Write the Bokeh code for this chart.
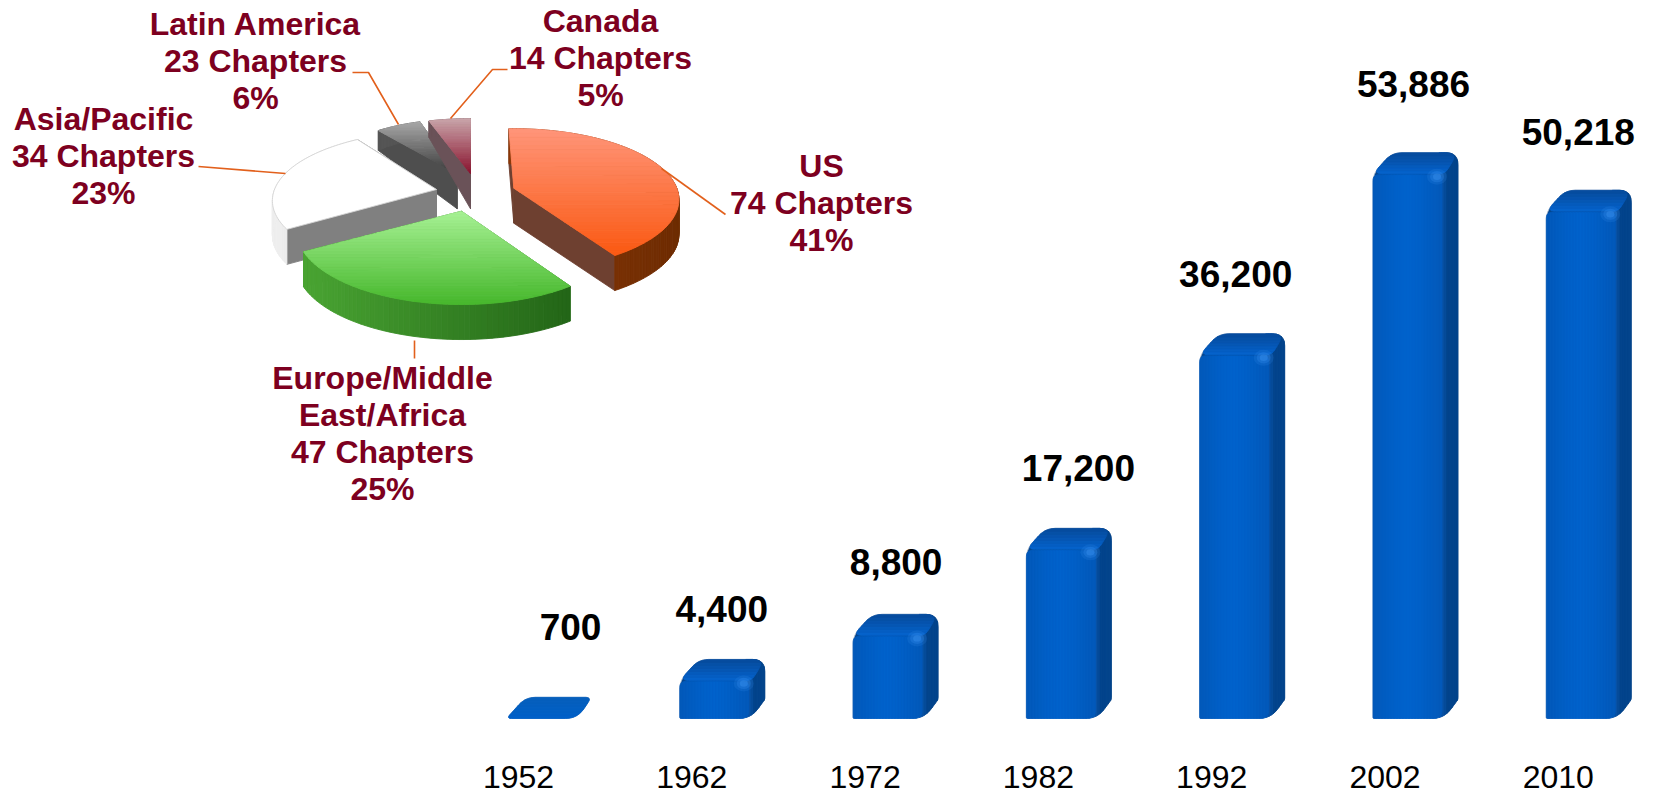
import math
from bokeh.plotting import figure
from bokeh.models import Range1d, FixedTicker
from bokeh.core.properties import value as V
from bokeh.embed import file_html
from bokeh.resources import INLINE

# ---- data
YEARS = ["1952", "1962", "1972", "1982", "1992", "2002", "2010"]
MEMBERS = [700, 4400, 8800, 17200, 36200, 53886, 50218]
REGIONS = ["US", "Europe/Middle East/Africa", "Asia/Pacific", "Latin America", "Canada"]
CHAPTERS = [74, 47, 34, 23, 14]
SHARES = [41, 25, 23, 6, 5]

# ---- layout
W, FH = 1655, 756
M = 0
BASE = 718          # pixel of value 0
K = 0.01024         # px per member
S = 173.3           # px per category
X0 = 518            # pixel of category 0
FONT = "Liberation Sans"

def lerp(c1, c2, t):
    t = max(0, min(1, t))
    return "#%02x%02x%02x" % tuple(round(c1[i] + (c2[i] - c1[i]) * t) for i in range(3))

def h(s):
    return tuple(int(s[i:i + 2], 16) for i in (1, 3, 5))

def clip(poly, axis, lo, hi):
    def half(pts, keep, inter):
        out = []
        for i in range(len(pts)):
            a, b = pts[i], pts[(i + 1) % len(pts)]
            ka, kb = keep(a), keep(b)
            if ka:
                out.append(a)
            if ka != kb:
                out.append(inter(a, b))
        return out
    def cross(val):
        def f(a, b):
            t = (val - a[axis]) / (b[axis] - a[axis])
            return (a[0] + (b[0] - a[0]) * t, a[1] + (b[1] - a[1]) * t)
        return f
    r = half(poly, lambda p: p[axis] >= lo, cross(lo))
    if r:
        r = half(r, lambda p: p[axis] <= hi, cross(hi))
    return r

def rounded(pts, rad):
    out = []
    n = len(pts)
    for i in range(n):
        p, q, r = pts[i - 1], pts[i], pts[(i + 1) % n]
        rq = rad[i] if isinstance(rad, (list, tuple)) else rad
        d1, d2 = math.dist(p, q), math.dist(q, r)
        if rq <= 0 or d1 < 1e-6 or d2 < 1e-6:
            out.append(q)
            continue
        rr = min(rq, d1 / 2, d2 / 2)
        a = (q[0] + (p[0] - q[0]) * rr / d1, q[1] + (p[1] - q[1]) * rr / d1)
        b = (q[0] + (r[0] - q[0]) * rr / d2, q[1] + (r[1] - q[1]) * rr / d2)
        for k in range(7):
            t = k / 6
            out.append(((1 - t) ** 2 * a[0] + 2 * t * (1 - t) * q[0] + t * t * b[0],
                        (1 - t) ** 2 * a[1] + 2 * t * (1 - t) * q[1] + t * t * b[1]))
    return out

p = figure(frame_width=W, frame_height=FH, output_backend="svg", toolbar_location=None,
           x_range=Range1d(-(X0 - M) / S, (M + W - X0) / S),
           y_range=Range1d(-(M + FH - BASE) / K, (BASE - M) / K),
           min_border=0, min_border_left=0, min_border_right=0, min_border_top=0, min_border_bottom=37,
           outline_line_color=None, background_fill_color="white", border_fill_color="white")
p.grid.visible = False
p.yaxis.visible = False
p.extra_x_ranges["px"] = Range1d(M, M + W)
p.extra_y_ranges["px"] = Range1d(M + FH, M)

ax = p.xaxis[0]
ax.ticker = FixedTicker(ticks=list(range(len(YEARS))))
ax.major_label_overrides = {i: y for i, y in enumerate(YEARS)}
ax.major_label_text_font = FONT
ax.major_label_text_font_size = "32px"
ax.major_label_text_color = "#000000"
ax.major_label_text_line_height = 0.75
ax.major_label_standoff = 3
ax.axis_line_color = None
ax.major_tick_line_color = None
ax.minor_tick_line_color = None

# ---- bars
DEPTH_X, DEPTH_Y = 16, 21
BW = 69
BX = -12
bx, by, bc, bl = [], [], [], []

def add(poly, col, line=None):
    bx.append([i + q[0] / S for q in poly])
    by.append([q[1] / K for q in poly])
    bc.append(col)
    bl.append(line or col)

for i, v in enumerate(MEMBERS):
    hb = v * K + 14
    hf = max(0, v * K - 7)
    x0 = BX
    if hf > 6:
        sil = [(x0, 0), (x0, hf), (x0 + DEPTH_X + 3, hb), (x0 + BW + DEPTH_X, hb),
               (x0 + BW + DEPTH_X, DEPTH_Y - 2), (x0 + BW + 2, 0)]
        rad = [2, 9, 10, 12, 2, 12]
    else:
        # so low that only the rounded top of the bar shows
        sil = [(x0, 0), (x0 + DEPTH_X + 3, hb), (x0 + BW + DEPTH_X, hb), (x0 + BW + 2, 0)]
        rad = [5, 10, 6, 12]
    add(rounded(sil, rad), "#04468f" if hf > 6 else "#0058b8", "#aab6c8")
    sp = rounded(sil, rad)
    if hf > 6:
        for j in range(8):
            yy = clip(sp, 0, x0 + BW - 3 + j * 2.6, x0 + BW - 3 + (j + 1) * 2.6)
            if yy:
                add(yy, lerp(h("#0a58b2"), h("#03448c"), j / 3))
        top = [(x0, hf), (x0 + DEPTH_X + 3, hb), (x0 + BW + DEPTH_X, hb), (x0 + BW + 3, hf)]
        tp = rounded(top, [9, 10, 12, 6])
        for j in range(7):
            lo = hf + (hb - hf) * j / 7
            hi = hf + (hb - hf) * (j + 1) / 7
            c = clip(tp, 1, lo, hi)
            if c:
                add(c, lerp(h("#0562ca"), h("#064c9f"), j / 6))
        front = rounded([(x0, 0), (x0, hf - 1), (x0 + BW, hf - 1), (x0 + BW, 0)], [1, 6, 6, 8])
        for j in range(23):
            c = clip(front, 0, x0 + j * BW / 23, x0 + (j + 1) * BW / 23)
            if c:
                t = j / 22
                add(c, lerp(h("#0259ba"), h("#0062cc"), 1 - abs(2 * t - 1) ** 1.4))
    else:
        for j in range(7):
            c = clip(sp, 1, hb * j / 7, hb * (j + 1) / 7)
            if c:
                add(c, lerp(h("#0060c8"), h("#065fbc"), j / 6))
p.patches(bx, by, fill_color=bc, line_color=bl, line_width=0.8)

# corner highlights
hl = [(i, v) for i, v in enumerate(MEMBERS) if v * K - 7 > 6]
for r, a in [(10, 0.16), (7, 0.24), (4, 0.35)]:
    p.ellipse([i + (BX + BW - 5) / S for i, _ in hl], [(v * K - 10) / K for _, v in hl],
              width=2 * r, height=2 * r * 0.8, width_units="screen", height_units="screen",
              fill_color="#3f97f5", fill_alpha=a, line_color=None)

# value labels
LDX = [52, 30, 31, 40, 24, 28.5, 20]
LDY = [-84, -64, -66, -74, -74, -83, -72]
p.text(list(range(len(MEMBERS))), MEMBERS,
       text=[f"{v:,}" if v >= 1000 else str(v) for v in MEMBERS],
       x_offset=LDX, y_offset=LDY, text_align="center", text_baseline="middle",
       text_font=V(FONT), text_font_style="bold", text_font_size="37px", text_color="#000000")

# ---- pie
WEDGES = [
    # centre x, y,      a,   b,   p, top colours,                face,     rim colours
    (513.3, 187.7, 163, 69, .16, "#ff9478", "#fa5a14", "#6e4030", "#a8440c", "#6e2c02"),
    (461.0, 210.7, 160, 70, .25, "#a6f193", "#48b82e", "#2f7a1e", "#4aa533", "#1c5a12"),
    (436.0, 189.0, 162, 68, .16, "#ffffff", "#ffffff", "#808080", "#eeeeee", "#d8d8d8"),
    (456.7, 173.3, 139, 63, .16, "#a8a8a8", "#3c3c3c", "#4e4e4e", "#555555", "#555555"),
    (470.0, 173.3, 155, 64, .16, "#c9a5aa", "#8a1530", "#6a5258", "#6a5258", "#6a5258"),
]
ANGLE_START_ADJ = [-2, 0, 0, 0, 0]   # perspective correction of each slice's edges
ANGLE_END_ADJ = [0, 2, 6, 0, 0]
DEPTH = 35
TAPER = [0, 0, 0, .6, .6]
DRAW = [3, 4, 2, 1, 0]
starts = []
acc = 0
for s in SHARES:
    starts.append(acc)
    acc += s * 3.6

def proj(w, th, r=1.0):
    cx, cy, a, b, pp = w[:5]
    X, Y = r * math.sin(math.radians(th)), r * math.cos(math.radians(th))
    d = 1 + pp * Y
    return cx + a * X / d, cy - b * Y / d

px, py, pc, pl = [], [], [], []

def addp(poly, col, line=None):
    px.append([q[0] for q in poly])
    py.append([q[1] for q in poly])
    pc.append(col)
    pl.append(line or col)

for k in DRAW:
    w = WEDGES[k]
    t0 = starts[k] + ANGLE_START_ADJ[k]
    t1 = starts[k] + SHARES[k] * 3.6 + ANGLE_END_ADJ[k]
    ap = (w[0], w[1])
    n = max(8, int((t1 - t0) / 1.5))
    arc = [proj(w, t0 + (t1 - t0) * i / n) for i in range(n + 1)]
    def dn(q):
        f = 1 - TAPER[k] * max(0, ap[1] - q[1]) / 60
        return (q[0], q[1] + DEPTH * f)
    # cut faces
    addp([ap, arc[-1], dn(arc[-1]), dn(ap)], w[7])
    addp([ap, arc[0], dn(arc[0]), dn(ap)], w[7])
    # rim
    for i in range(n):
        c = lerp(h(w[8]), h(w[9]), (arc[i][0] - (w[0] - w[2])) / (2 * w[2]))
        addp([arc[i], arc[i + 1], dn(arc[i + 1]), dn(arc[i])], c)
    # top with a vertical gradient
    poly = [ap] + arc
    if w[5] == w[6]:
        addp(poly, w[5], "#d4d4d4")
        continue
    ys = [q[1] for q in poly]
    y0, y1 = min(ys), max(ys)
    N = 30
    for j in range(N):
        c = clip(poly, 1, y0 + (y1 - y0) * j / N, y0 + (y1 - y0) * (j + 1) / N)
        if c:
            addp(c, lerp(h(w[5]), h(w[6]), j / (N - 1)))
p.patches(px, py, fill_color=pc, line_color=pl, line_width=0.9, x_range_name="px", y_range_name="px")

# leader lines
LEADERS = [
    [(661, 168), (725, 214)],
    [(414, 340), (414, 358)],
    [(285, 173), (198, 166)],
    [(398, 124), (368, 72), (352, 72)],
    [(450, 118), (492, 69), (507, 69)],
]
p.multi_line([[q[0] for q in l] for l in LEADERS], [[q[1] for q in l] for l in LEADERS],
             line_color="#e2601c", line_width=1.6, x_range_name="px", y_range_name="px")

# pie labels
LABEL_POS = [(821, 165), (382, 377), (103, 118), (255, 23), (600, 20)]
LABEL_LINES = [["US"], ["Europe/Middle", "East/Africa"], ["Asia/Pacific"], ["Latin America"], ["Canada"]]
tx, ty, tt = [], [], []
for k in range(5):
    lines = LABEL_LINES[k] + [f"{CHAPTERS[k]} Chapters", f"{SHARES[k]}%"]
    for j, t in enumerate(lines):
        tx.append(LABEL_POS[k][0])
        ty.append(LABEL_POS[k][1] + j * 37)
        tt.append(t)
p.text(tx, ty, text=tt, text_align="center", text_baseline="middle", text_font=V(FONT),
       text_font_style="bold", text_font_size="32px", text_color="#7d0020",
       x_range_name="px", y_range_name="px")

open("out.html", "w").write(file_html(p, INLINE))
